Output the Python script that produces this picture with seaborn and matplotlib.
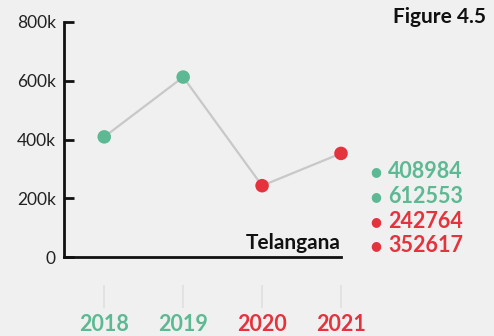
import matplotlib
matplotlib.use("Agg")
import matplotlib.pyplot as plt
import seaborn as sns
import pandas as pd

years = ["2018", "2019", "2020", "2021"]
values = [408984, 612553, 242764, 352617]
trend = ["up", "up", "down", "down"]
y_ticks = [0, 200000, 400000, 600000, 800000]
y_tick_labels = ["0", "200k", "400k", "600k", "800k"]
region = "Telangana"
figure_label = "Figure 4.5"

GREEN = "#5cb993"
RED = "#e5333d"
palette = {"up": GREEN, "down": RED}

sns.set_theme(style="white")
plt.rcParams["font.family"] = ["Lato", "DejaVu Sans"]

df = pd.DataFrame({"year": years, "value": values, "trend": trend})
df["pos"] = range(len(df))

fig = plt.figure(figsize=(4.94, 3.36), dpi=100)
fig.patch.set_facecolor("#f0f0f0")
ax = fig.add_axes([64 / 494, 79 / 336, 277 / 494, 235 / 336])
ax.set_facecolor("#f0f0f0")

sns.lineplot(data=df, x="pos", y="value", color="#c8c8c8", linewidth=1.6,
             ax=ax, zorder=2)
sns.scatterplot(data=df, x="pos", y="value", hue="trend", palette=palette,
                s=95, edgecolor="none", legend=False, ax=ax, zorder=3,
                clip_on=False)

ax.set_xlim(-0.51, 3.0)
ax.set_ylim(0, 800000)
ax.set_xlabel("")
ax.set_ylabel("")

for side in ("top", "right"):
    ax.spines[side].set_visible(False)
for side in ("left", "bottom"):
    ax.spines[side].set_color("#111111")
    ax.spines[side].set_linewidth(2)
    ax.spines[side].set_capstyle("projecting")

ax.set_yticks(y_ticks)
ax.set_yticklabels(y_tick_labels)
ax.tick_params(axis="y", direction="in", length=7, width=2, color="#111111",
               labelsize=12.5, labelcolor="#222222", pad=6, left=True)
ax.tick_params(axis="x", length=0, labelbottom=False, bottom=False)

# year labels sit on a detached axis below the baseline
sec = ax.secondary_xaxis(-0.118)
sec.spines["bottom"].set_visible(False)
sec.set_xticks(df["pos"])
sec.set_xticklabels(years)
sec.tick_params(axis="x", direction="out", length=16.5, width=1.1,
                color="#dedede", labelsize=15.5, pad=4.5)
for lbl, t in zip(sec.get_xticklabels(), trend):
    lbl.set_color(palette[t])
    lbl.set_fontweight("bold")

ax.text(1.0, 0.015, region, transform=ax.transAxes, ha="right", va="bottom",
        fontsize=15, fontweight="bold", color="#111111")

fig.text(486 / 494, 1 - 17 / 336, figure_label, ha="right", va="center",
         fontsize=15, fontweight="bold", color="#111111")

# value list on the right, one row per year
for i, (v, t) in enumerate(zip(values, trend)):
    y = 1 - (172 + i * 24.6) / 336
    c = palette[t]
    fig.text(376 / 494, y, "\u25CF", ha="center", va="center",
             fontsize=9, color=c, family=["DejaVu Sans"])
    fig.text(388 / 494, y, str(v), ha="left", va="center",
             fontsize=15.5, fontweight="bold", color=c)

fig.savefig("out.png", dpi=100, facecolor=fig.get_facecolor())
